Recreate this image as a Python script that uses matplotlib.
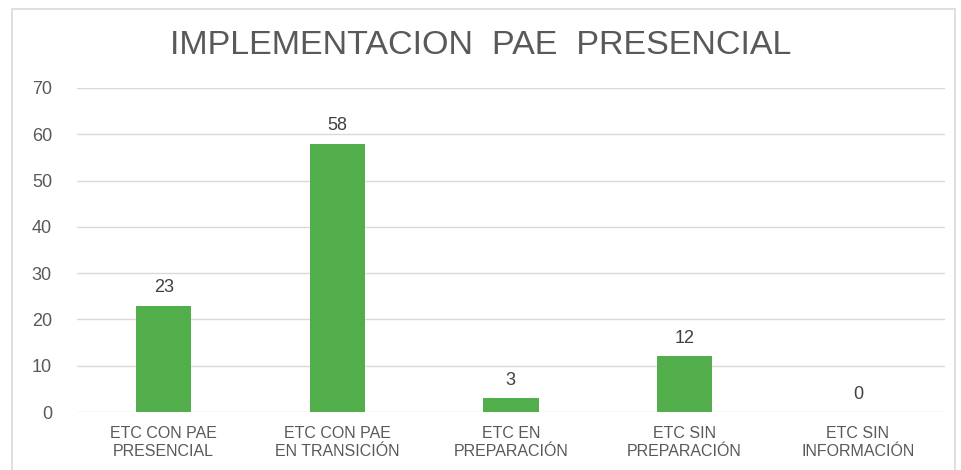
import matplotlib.pyplot as plt
from matplotlib.patches import Rectangle

plt.rcParams["font.family"] = ["Liberation Sans", "DejaVu Sans"]

categories = ["ETC CON PAE\nPRESENCIAL", "ETC CON PAE\nEN TRANSICIÓN", "ETC EN\nPREPARACIÓN",
              "ETC SIN\nPREPARACIÓN", "ETC SIN\nINFORMACIÓN"]
values = [23, 58, 3, 12, 0]

fig = plt.figure(figsize=(9.62, 4.70), dpi=100)
fig.patches.append(Rectangle((12 / 962, -0.01), 943 / 962, 0.99, transform=fig.transFigure,
                             fill=False, edgecolor="#d9d9d9", linewidth=1.2))
ax = fig.add_axes([0.080, 0.1234, 0.902, 0.6894])

x = range(len(categories))
bars = ax.bar(x, values, width=0.32, color="#52AD4B", zorder=3)
for b, v in zip(bars, values):
    ax.text(b.get_x() + b.get_width() / 2, v + 2, str(v), ha="center", va="bottom",
            fontsize=13, color="#404040")

ax.set_xlim(-0.5, len(categories) - 0.5)
ax.set_ylim(0, 70)
ax.set_yticks(range(0, 71, 10))
ax.set_xticks(list(x))
ax.set_xticklabels(categories, fontsize=11.5, color="#595959", linespacing=1.3)
ax.tick_params(axis="y", labelsize=13, labelcolor="#595959", length=0, pad=18)
ax.tick_params(axis="x", length=0, pad=10)
ax.grid(axis="y", color="#d9d9d9", linewidth=1, zorder=0)
for s in ax.spines.values():
    s.set_visible(False)

fig.text(0.5, 0.904, "IMPLEMENTACION  PAE  PRESENCIAL", ha="center", va="center",
         fontsize=24.5, color="#595959")

fig.savefig("out.png", dpi=100)
